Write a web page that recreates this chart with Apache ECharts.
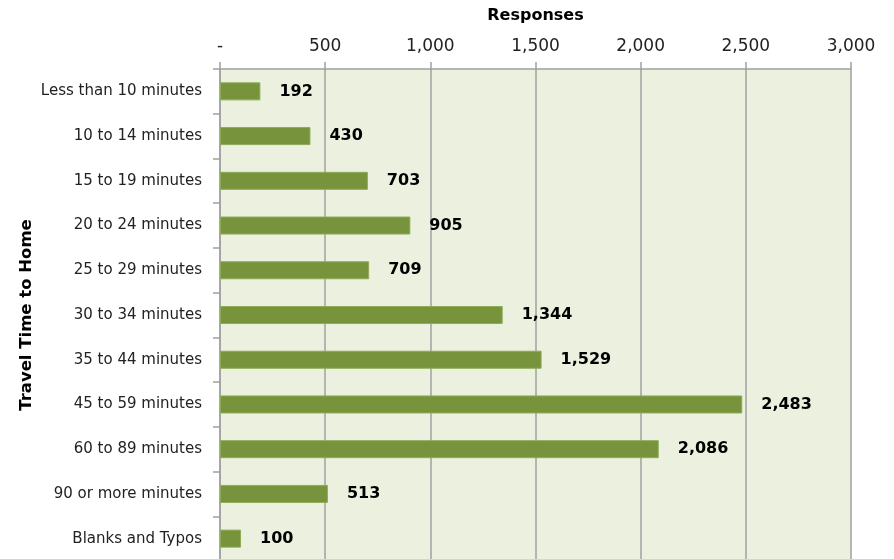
<!DOCTYPE html>
<html>
<head>
<meta charset="utf-8">
<script src="https://cdn.jsdelivr.net/npm/echarts@6/dist/echarts.min.js"></script>
<style>
  html, body { margin: 0; padding: 0; background: #fff; }
  #chart { width: 894px; height: 559px; }
</style>
</head>
<body>
<div id="chart"></div>
<script>
// Survey responses by travel time to home
var categories = [
  'Less than 10 minutes', '10 to 14 minutes', '15 to 19 minutes', '20 to 24 minutes',
  '25 to 29 minutes', '30 to 34 minutes', '35 to 44 minutes', '45 to 59 minutes',
  '60 to 89 minutes', '90 or more minutes', 'Blanks and Typos'
];
var responses = [192, 430, 703, 905, 709, 1344, 1529, 2483, 2086, 513, 100];
var xTicks = [0, 500, 1000, 1500, 2000, 2500, 3000];

var fontFamily = '"DejaVu Sans", sans-serif';
function fmt(v) {
  return v === 0 ? '-' : v.toLocaleString('en-US');
}

var chart = echarts.init(document.getElementById('chart'), null, { renderer: 'canvas' });
chart.setOption({
  animation: false,
  grid: {
    left: 220, right: 43, top: 69, height: 492,
    outerBoundsMode: 'none',
    containLabel: false,
    show: true, backgroundColor: '#EBF1DE', borderWidth: 0
  },
  xAxis: {
    type: 'value',
    position: 'top',
    min: xTicks[0], max: xTicks[xTicks.length - 1], interval: 500,
    name: 'Responses',
    nameLocation: 'middle',
    nameGap: 45,
    nameTextStyle: { fontFamily: fontFamily, fontWeight: 'bold', fontSize: 16, color: '#000' },
    axisLine: { show: true, lineStyle: { color: '#A0A0A0', width: 1.5 } },
    axisTick: { show: true, length: 7, lineStyle: { color: '#A0A0A0', width: 1.5 } },
    axisLabel: {
      margin: 14, fontFamily: fontFamily, fontSize: 17, color: '#222',
      formatter: fmt
    },
    splitLine: { show: true, lineStyle: { color: '#A0A0A0', width: 1.5 } }
  },
  yAxis: {
    type: 'category',
    data: categories,
    inverse: true,
    name: 'Travel Time to Home',
    nameLocation: 'middle',
    nameRotate: 90,
    nameGap: 185,
    nameMoveOverlap: false,
    nameTextStyle: { fontFamily: fontFamily, fontWeight: 'bold', fontSize: 16.5, color: '#000' },
    axisLine: { show: true, lineStyle: { color: '#A0A0A0', width: 1.5 } },
    axisTick: { show: true, length: 7, lineStyle: { color: '#A0A0A0', width: 1.5 } },
    axisLabel: { margin: 18, fontFamily: fontFamily, fontSize: 15, color: '#222' },
    splitLine: { show: false }
  },
  series: [{
    type: 'bar',
    data: responses,
    barWidth: 18,
    itemStyle: { color: '#77933C', borderColor: '#8FAA58', borderWidth: 1 },
    label: {
      show: true,
      position: 'right',
      distance: 19,
      fontFamily: fontFamily,
      fontWeight: 'bold',
      fontSize: 16,
      color: '#000',
      formatter: function (p) { return fmt(p.value); }
    }
  }]
});
</script>
</body>
</html>
